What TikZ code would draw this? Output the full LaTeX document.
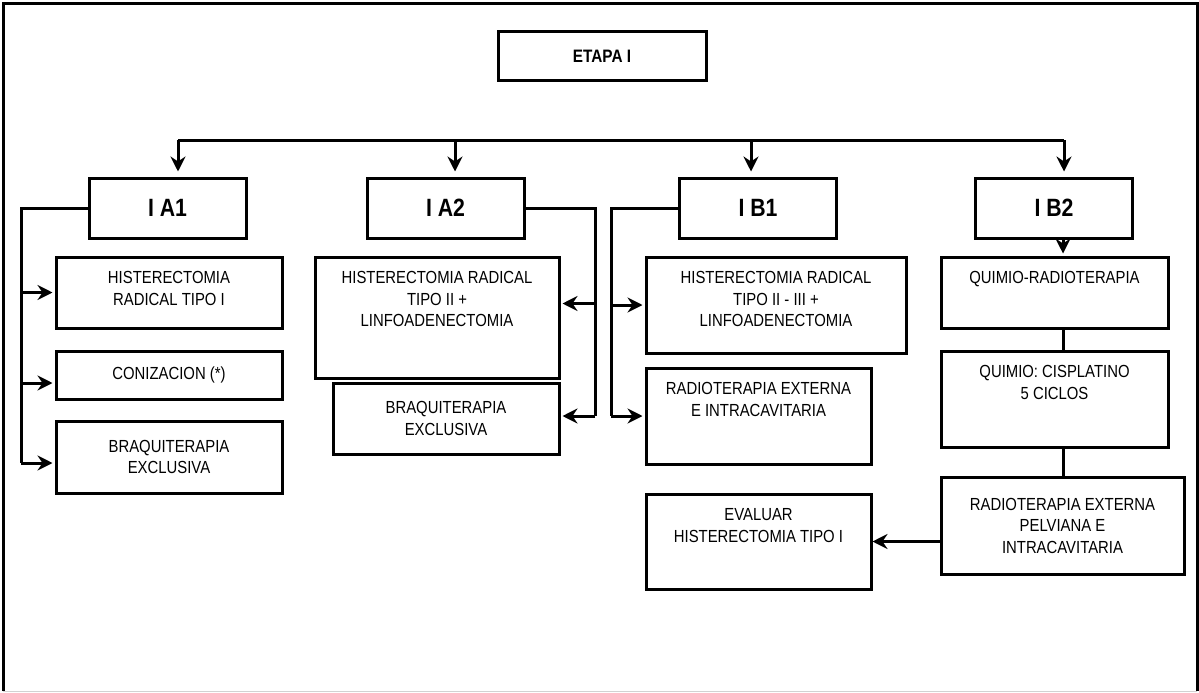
\documentclass[tikz,border=0pt]{standalone}
\usepackage{fontspec}
\setmainfont{Liberation Sans}[FakeStretch=0.85]
\usetikzlibrary{arrows.meta}
\tikzset{
  box/.style={draw, line width=3pt, inner sep=0pt, align=center, font=\fontsize{17.5}{21.5}\selectfont},
  stage/.style={box, minimum width=157pt, minimum height=60pt, font=\fontsize{25}{28}\selectfont\bfseries},
  toptext/.style={anchor=north, yshift=-16pt, inner sep=0pt, align=center, font=\fontsize{17.5}{21.5}\selectfont},
  line/.style={line width=3pt},
  arr/.style={line width=3pt, -{Stealth[length=15pt,width=15pt,inset=5pt]}},
}
\begin{document}
\begin{tikzpicture}[x=1pt,y=-1pt]
	\useasboundingbox (0,0) rectangle (1199,693);
	\draw [line width=3pt] (3,691) -- (3,4) -- (1197,4) -- (1197,691);
	\draw [gray!35, line width=1pt] (3,691) -- (1197,691);
	
	\node[box, minimum width=208pt, minimum height=48pt, font=\fontsize{18}{21}\selectfont\bfseries] (etapa) at (602,56) {ETAPA I};
	
	\node[stage] (ia1) at (167.5,208) {I A1};
	\node[stage] (ia2) at (445.5,208) {I A2};
	\node[stage] (ib1) at (758,208) {I B1};
	\node[stage] (ib2) at (1054,208) {I B2};
	
	\node[box, minimum width=226pt, minimum height=71pt, label={[toptext]north:{HISTERECTOMIA\\RADICAL TIPO I}}] (hrt1) at (169,292.5) {};
	\node[box, minimum width=226pt, minimum height=48pt] (coniz) at (169,375) {CONIZACION (*)};
	\node[box, minimum width=226pt, minimum height=72pt] (braq1) at (169,457) {BRAQUITERAPIA\\EXCLUSIVA};
	
	\node[box, minimum width=244pt, minimum height=121pt, label={[toptext]north:{HISTERECTOMIA RADICAL\\TIPO II +\\LINFOADENECTOMIA}}] (hrt2) at (437,317.5) {};
	\node[box, minimum width=226pt, minimum height=71pt] (braq2) at (446,418.5) {BRAQUITERAPIA\\EXCLUSIVA};
	
	\node[box, minimum width=260pt, minimum height=96pt, label={[toptext]north:{HISTERECTOMIA RADICAL\\TIPO II - III +\\LINFOADENECTOMIA}}] (hrt3) at (776,305) {};
	\node[box, minimum width=225pt, minimum height=96pt, label={[toptext]north:{RADIOTERAPIA EXTERNA\\E INTRACAVITARIA}}] (rte) at (758.5,416) {};
	\node[box, minimum width=225pt, minimum height=95pt, label={[toptext]north:{EVALUAR\\HISTERECTOMIA TIPO I}}] (eval) at (758.5,541.5) {};
	
	\node[box, minimum width=227pt, minimum height=71pt, label={[toptext]north:{QUIMIO-RADIOTERAPIA}}] (qr) at (1054.5,292.5) {};
	\node[box, minimum width=227pt, minimum height=96pt, label={[toptext]north:{QUIMIO: CISPLATINO\\5 CICLOS}}] (qc) at (1054.5,399) {};
	\node[box, minimum width=243pt, minimum height=97pt] (rtp) at (1062.5,525.5) {RADIOTERAPIA EXTERNA\\PELVIANA E\\INTRACAVITARIA};
	
	\coordinate (b1) at (178,140);
	\coordinate (b2) at (455,140);
	\coordinate (b3) at (751,140);
	\coordinate (b4) at (1064,140);
	\draw [line] (b1) -- (b4);
	\foreach \b/\n in {b1/ia1,b2/ia2,b3/ib1,b4/ib2}
	\draw [arr, shorten >=5pt] (\b) -- (\b |- \n.north);
	
	\coordinate (sp1) at (21,463);
	\draw [line] (ia1.west) -| (sp1);
	\draw [arr, shorten >=2pt] (sp1 |- hrt1.west) -- (hrt1.west);
	\draw [arr, shorten >=2pt] ([yshift=-8pt]coniz.west -| sp1) -- ([yshift=-8pt]coniz.west);
	\draw [arr, shorten >=2pt] (sp1) -- (sp1 -| braq1.west);
	
	\coordinate (sp2) at (595,416);
	\draw [line] (ia2.east) -| (sp2);
	\draw [arr, shorten >=2pt] ([yshift=14pt]hrt2.east -| sp2) -- ([yshift=14pt]hrt2.east);
	\draw [arr, shorten >=2pt] (sp2) -- (sp2 -| braq2.east);
	
	\coordinate (sp3) at (611,416);
	\draw [line] (ib1.west) -| (sp3);
	\draw [arr, shorten >=2pt] (sp3 |- hrt3.west) -- (hrt3.west);
	\draw [arr, shorten >=2pt] (sp3) -- (rte.west);
	
	\coordinate (col) at (1063,0);
	\draw [arr, shorten >=2pt] (ib2.south -| col) -- (qr.north -| col);
	\draw [line] (qr.south -| col) -- (qc.north -| col);
	\draw [line] (qc.south -| col) -- (rtp.north -| col);
	\draw [arr] (eval.east -| rtp.west) -- (eval.east);
\end{tikzpicture}
\end{document}
